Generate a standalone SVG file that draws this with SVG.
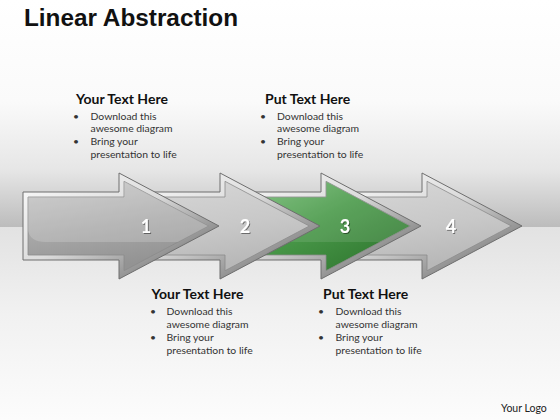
<svg xmlns="http://www.w3.org/2000/svg" xmlns:xlink="http://www.w3.org/1999/xlink" width="560" height="420" viewBox="0 0 560 420">
  <defs>
    <linearGradient id="bgTop" x1="0" y1="0" x2="0" y2="1">
      <stop offset="0" stop-color="#ffffff"/>
      <stop offset="0.45" stop-color="#fafafa"/>
      <stop offset="0.75" stop-color="#e6e6e6"/>
      <stop offset="1" stop-color="#bcbcbc"/>
    </linearGradient>
    <linearGradient id="bgBot" x1="0" y1="0" x2="0" y2="1">
      <stop offset="0" stop-color="#e2e2e2"/>
      <stop offset="0.45" stop-color="#f1f1f1"/>
      <stop offset="1" stop-color="#fcfcfc"/>
    </linearGradient>
    <linearGradient id="bevel" x1="0" y1="0" x2="1" y2="1">
      <stop offset="0" stop-color="#fcfcfc"/>
      <stop offset="0.45" stop-color="#dcdcdc"/>
      <stop offset="1" stop-color="#555555"/>
    </linearGradient>
    <linearGradient id="body1" x1="0" y1="0" x2="0.3" y2="1">
      <stop offset="0" stop-color="#c6c6c6"/>
      <stop offset="0.6" stop-color="#a6a6a6"/>
      <stop offset="1" stop-color="#939393"/>
    </linearGradient>
    <linearGradient id="bodyL" x1="0" y1="0" x2="0.3" y2="1">
      <stop offset="0" stop-color="#d8d8d8"/>
      <stop offset="0.6" stop-color="#c8c8c8"/>
      <stop offset="1" stop-color="#b8b8b8"/>
    </linearGradient>
    <linearGradient id="bodyG" x1="0" y1="0" x2="1" y2="1">
      <stop offset="0" stop-color="#80c480"/>
      <stop offset="0.45" stop-color="#4a9a4a"/>
      <stop offset="1" stop-color="#2a6f2a"/>
    </linearGradient>
    <path id="outer" d="M0,-34 H96 V-53 L196,0 L96,53 V34 H0 Z"/>
    <path id="inner" d="M5,-29 H101 V-44.7 L185.3,0 L101,44.7 V29 H5 Z"/>
    <filter id="sh" x="-50%" y="-50%" width="200%" height="200%">
      <feDropShadow dx="1" dy="1" stdDeviation="0.6" flood-color="#000" flood-opacity="0.45"/>
    </filter>
  </defs>
  <style>
    .outer { fill: url(#bevel); stroke: #6e6e6e; stroke-width: 1; }
    .inner { stroke: #8c8c8c; stroke-width: 0.8; }
    .num { font-family: Lato, "Open Sans", sans-serif; font-weight: bold; font-size: 18px; fill: #ffffff; text-anchor: middle; filter: url(#sh); }
    .title { font-family: "Liberation Sans", Arial, sans-serif; font-weight: bold; font-size: 23px; fill: #111111; }
    .head { font-family: Lato, "Open Sans", sans-serif; font-weight: bold; font-size: 14px; fill: #111111; }
    .body { font-family: Lato, "Open Sans", sans-serif; font-size: 10.4px; fill: #333333; }
    .logo { font-family: Lato, "Open Sans", sans-serif; font-size: 10.5px; fill: #222222; }
  </style>

  <rect x="0" y="0" width="560" height="227" fill="url(#bgTop)"/>
  <rect x="0" y="227" width="560" height="193" fill="url(#bgBot)"/>

  <text class="title" x="24" y="26" textLength="214" lengthAdjust="spacingAndGlyphs">Linear Abstraction</text>

  <g id="arrow4" transform="translate(326,226)">
    <use href="#outer" class="outer"/>
    <use href="#inner" class="inner" fill="url(#bodyL)"/>
    <text class="num" x="125" y="7">4</text>
  </g>
  <g id="arrow3" transform="translate(225,226)">
    <use href="#outer" class="outer"/>
    <use href="#inner" class="inner" fill="url(#bodyG)" stroke="#3d7a3d"/>
    <path d="M5,-29 H101 V-44.7 L185.3,0 L155,16 H22 Q8,16 5,5 Z" fill="#ffffff" opacity="0.1"/>
    <text class="num" x="120" y="7">3</text>
  </g>
  <g id="arrow2" transform="translate(124,226)">
    <use href="#outer" class="outer"/>
    <use href="#inner" class="inner" fill="url(#bodyL)"/>
    <text class="num" x="121" y="7">2</text>
  </g>
  <g id="arrow1" transform="translate(23,226)">
    <use href="#outer" class="outer"/>
    <use href="#inner" class="inner" fill="url(#body1)"/>
    <path d="M5,-29 H101 V-44.7 L185.3,0 L155,16 H22 Q8,16 5,5 Z" fill="#ffffff" opacity="0.18"/>
    <text class="num" x="123" y="7">1</text>
  </g>

  <g id="connectors"></g>

  <g id="text1">
    <text class="head" x="76" y="104">Your Text Here</text>
    <text class="body" x="73" y="119.5">•</text>
    <text class="body" x="90.5" y="119.5">Download this</text>
    <text class="body" x="90.5" y="132.3">awesome diagram</text>
    <text class="body" x="73" y="145">•</text>
    <text class="body" x="90.5" y="145">Bring your</text>
    <text class="body" x="90.5" y="157.7">presentation to life</text>
  </g>
  <g id="text2">
    <text class="head" x="265" y="104">Put Text Here</text>
    <text class="body" x="260" y="119.5">•</text>
    <text class="body" x="277" y="119.5">Download this</text>
    <text class="body" x="277" y="132.3">awesome diagram</text>
    <text class="body" x="260" y="145">•</text>
    <text class="body" x="277" y="145">Bring your</text>
    <text class="body" x="277" y="157.7">presentation to life</text>
  </g>
  <g id="text3">
    <text class="head" x="151.5" y="299">Your Text Here</text>
    <text class="body" x="150" y="315">•</text>
    <text class="body" x="166.5" y="315">Download this</text>
    <text class="body" x="166.5" y="328">awesome diagram</text>
    <text class="body" x="150" y="341">•</text>
    <text class="body" x="166.5" y="341">Bring your</text>
    <text class="body" x="166.5" y="354">presentation to life</text>
  </g>
  <g id="text4">
    <text class="head" x="323" y="299">Put Text Here</text>
    <text class="body" x="318" y="315">•</text>
    <text class="body" x="335.5" y="315">Download this</text>
    <text class="body" x="335.5" y="328">awesome diagram</text>
    <text class="body" x="318" y="341">•</text>
    <text class="body" x="335.5" y="341">Bring your</text>
    <text class="body" x="335.5" y="354">presentation to life</text>
  </g>

  <text class="logo" x="501" y="411.5">Your Logo</text>
</svg>
